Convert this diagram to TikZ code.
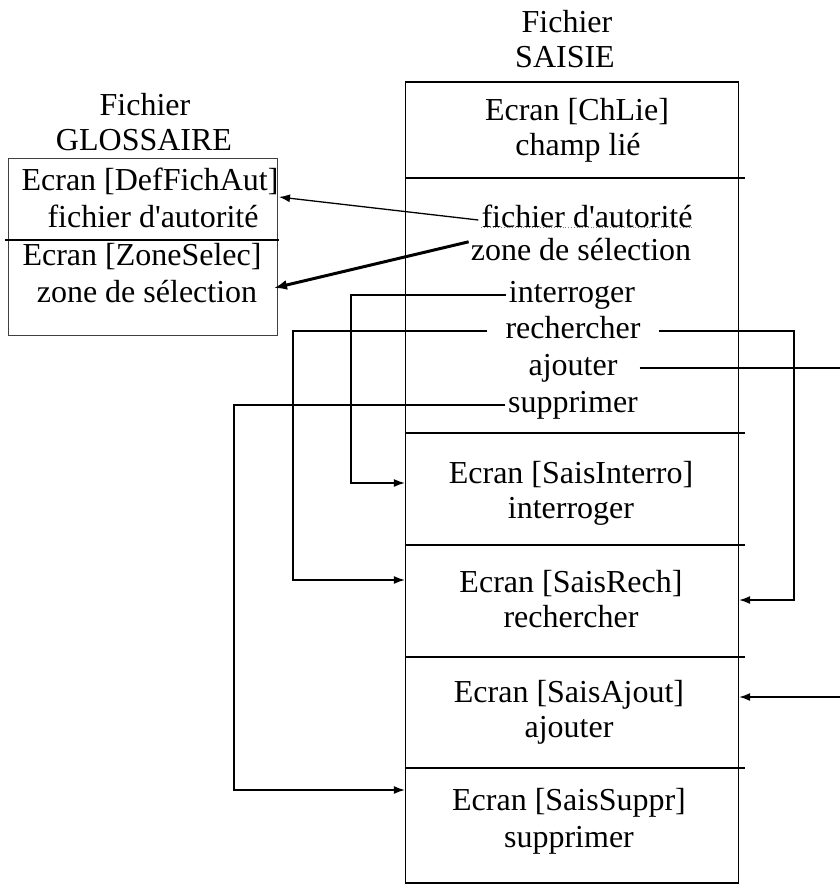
\documentclass[tikz,border=0pt]{standalone}
\usepackage{fontspec}
\setmainfont{Liberation Serif}
\usetikzlibrary{arrows.meta,calc}
\begin{document}
\begin{tikzpicture}[x=1pt,y=-1pt,
  lbl/.style={inner sep=0pt, anchor=base, font=\fontsize{32}{36}\selectfont,
    text height=20pt, text depth=6pt},
  frame/.style={draw, line width=1.4pt, inner sep=0pt},
  divider/.style={line width=2.2pt},
  link/.style={line width=1.3pt},
  arr/.style={link, -{Latex[length=11pt,width=8pt]}},
  thickarr/.style={line width=3pt, -{Latex[length=13pt,width=10pt]}}]

% page
\fill[white] (0,0) rectangle (840,886);
\useasboundingbox (0,0) rectangle (840,886);

% file frames
\node[frame, draw=black!75, line width=1pt, minimum width=269pt, minimum height=177pt] (gl) at (142.5,246.5) {};
\node[frame, minimum width=333pt, minimum height=801pt] (sa) at (572,482.5) {};

% screen separators
\draw[divider] (5,240) -- (279,240);
\foreach \yy in {178,433,545,657,768}
  \draw[divider] (sa.west |- 0,\yy) -- (745,\yy);

% headers
\node[lbl] (glF) at (145,115) {Fichier};
\node[lbl] (glN) at (144,150) {GLOSSAIRE};
\node[lbl] (saF) at (567,32) {Fichier};
\node[lbl] (saN) at (565,67) {SAISIE};

% GLOSSAIRE screens
\node[lbl] (gDef) at (150,190) {Ecran [DefFichAut]};
\node[lbl] (gDefT) at (153,227) {fichier d\textquotesingle autorité};
\node[lbl] (gZone) at (142,265) {Ecran [ZoneSelec]};
\node[lbl] (gZoneT) at (147,302) {zone de sélection};

% SAISIE screens
\node[lbl] (chl) at (577,120) {Ecran [ChLie]};
\node[lbl] (chlT) at (578,155) {champ lié};
\node[lbl] (fa) at (587,227) {fichier d\textquotesingle autorité};
\node[lbl] (zs) at (581,260) {zone de sélection};
\node[lbl] (it) at (572,302) {interroger};
\node[lbl] (rc) at (573,338) {rechercher};
\node[lbl] (aj) at (573,375) {ajouter};
\node[lbl] (sp) at (573,412) {supprimer};
\node[lbl] (sInt) at (571,483) {Ecran [SaisInterro]};
\node[lbl] (sIntT) at (571,518) {interroger};
\node[lbl] (sRec) at (571,592) {Ecran [SaisRech]};
\node[lbl] (sRecT) at (571,627) {rechercher};
\node[lbl] (sAj) at (569,702) {Ecran [SaisAjout]};
\node[lbl] (sAjT) at (569,737) {ajouter};
\node[lbl] (sSup) at (569,810) {Ecran [SaisSuppr]};
\node[lbl] (sSupT) at (569,847) {supprimer};

\draw[gray, dotted, line width=0.8pt] (fa.base west) -- (fa.base east);

% arrow ends and bends
\coordinate (tDef) at (279,197);
\coordinate (tZone) at (274,288);
\coordinate (cIt) at (351,0);
\coordinate (cRc) at (293,0);
\coordinate (cRcR) at (794,0);
\coordinate (cSp) at (234,0);
\coordinate (outAj) at (840,0);
\coordinate (inAj) at (840,697);

% links to GLOSSAIRE
\draw[arr] ([xshift=-3pt]fa.west) -- (tDef);
\draw[thickarr] ($(zs.north west)+(-2,2)$) -- (tZone);

% action links inside SAISIE
\draw[arr] ([xshift=-3pt]it.west) -- (cIt |- it.west) -- (cIt |- 0,483) -- (sa.west |- 0,483);
\draw[arr] ([xshift=-18pt]rc.west) -- (cRc |- rc.west) -- (cRc |- 0,580) -- (sa.west |- 0,580);
\draw[arr] ([xshift=18pt]rc.east) -- (cRcR |- rc.east) -- (cRcR |- 0,600) -- (sa.east |- 0,600);
\draw[link] ([xshift=22pt]aj.east) -- (outAj |- aj.east);
\draw[arr] (inAj) -- (sa.east |- inAj);
\draw[arr] ([xshift=-3pt]sp.west) -- (cSp |- sp.west) -- (cSp |- 0,790) -- (sa.west |- 0,790);

\end{tikzpicture}
\end{document}
